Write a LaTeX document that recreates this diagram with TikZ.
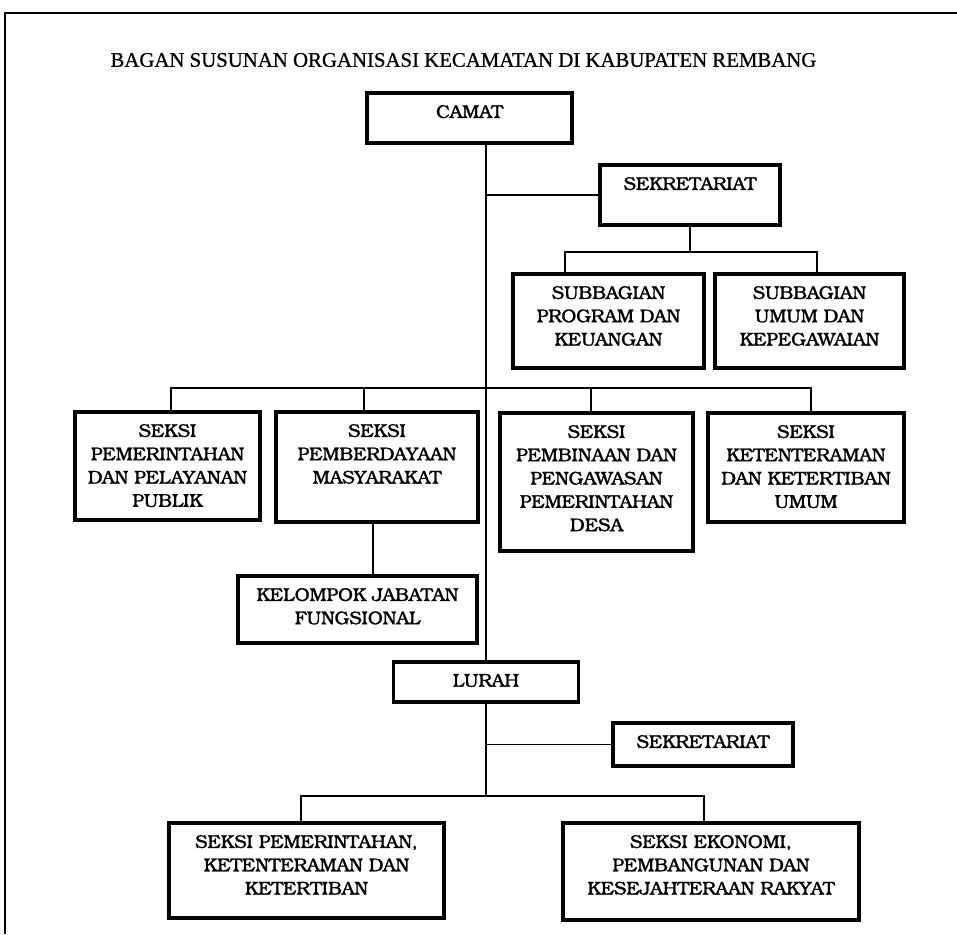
\documentclass[tikz,border=0pt]{standalone}
\usepackage{fontspec}
\newfontfamily\boxfont[FakeBold=1.3]{texgyrebonum-regular.otf}
\newfontfamily\titlefont[FakeBold=0.8]{Liberation Serif}
\begin{document}
\begin{tikzpicture}[x=1pt,y=-1pt,
  box/.style={draw, line width=3.2pt, inner sep=0pt, rectangle},
  txt/.style={font=\boxfont\fontsize{18.5}{23.3}\selectfont, align=center, inner sep=0pt, anchor=north},
  conn/.style={line width=1.7pt}]
\useasboundingbox (0,0) rectangle (957,934);
\draw[line width=1.8pt] (957,13) -- (5,13) -- (5,934);
\node[font=\titlefont\fontsize{20.8}{24}\selectfont, inner sep=0pt] (title) at (463.5,60) {BAGAN SUSUNAN ORGANISASI KECAMATAN DI KABUPATEN REMBANG};
% boxes
\node[box, minimum width=205pt, minimum height=50pt] (camat) at (469.5,118) {};
\node[box, minimum width=180pt, minimum height=60pt] (sek1) at (690,195) {};
\node[box, minimum width=191pt, minimum height=94pt] (sub1) at (608.5,321) {};
\node[box, minimum width=189pt, minimum height=94pt] (sub2) at (809.5,321) {};
\node[box, minimum width=185pt, minimum height=108pt] (s1) at (167.5,466) {};
\node[box, minimum width=202pt, minimum height=110pt] (s2) at (377,467) {};
\node[box, minimum width=193pt, minimum height=138pt] (s3) at (596.5,482) {};
\node[box, minimum width=196pt, minimum height=109pt] (s4) at (806,467.5) {};
\node[box, minimum width=239pt, minimum height=67pt] (kel) at (357.5,609.5) {};
\node[box, minimum width=185pt, minimum height=40pt] (lurah) at (486,682) {};
\node[box, minimum width=180pt, minimum height=43pt] (sek2) at (703,744.5) {};
\node[box, minimum width=275pt, minimum height=95pt] (l1) at (306.5,870.5) {};
\node[box, minimum width=296pt, minimum height=97pt] (l2) at (711,871.5) {};
% texts
\node[txt] (camatT) at ([yshift=-13.5pt]camat.north) {CAMAT};
\node[txt] (sek1T) at ([yshift=-13.5pt]sek1.north) {SEKRETARIAT};
\node[txt] (sub1T) at ([yshift=-13.5pt]sub1.north) {SUBBAGIAN\\PROGRAM DAN\\KEUANGAN};
\node[txt] (sub2T) at ([yshift=-13.5pt]sub2.north) {SUBBAGIAN\\UMUM DAN\\KEPEGAWAIAN};
\node[txt] (s1T) at ([yshift=-13.5pt]s1.north) {SEKSI\\PEMERINTAHAN\\DAN PELAYANAN\\PUBLIK};
\node[txt] (s2T) at ([yshift=-13.5pt]s2.north) {SEKSI\\PEMBERDAYAAN\\MASYARAKAT};
\node[txt] (s3T) at ([yshift=-13.5pt]s3.north) {SEKSI\\PEMBINAAN DAN\\PENGAWASAN\\PEMERINTAHAN\\DESA};
\node[txt] (s4T) at ([yshift=-13.5pt]s4.north) {SEKSI\\KETENTERAMAN\\DAN KETERTIBAN\\UMUM};
\node[txt] (kelT) at ([yshift=-13.5pt]kel.north) {KELOMPOK JABATAN\\FUNGSIONAL};
\node[txt] (lurahT) at ([yshift=-13.5pt]lurah.north) {LURAH};
\node[txt] (sek2T) at ([yshift=-13.5pt]sek2.north) {SEKRETARIAT};
\node[txt] (l1T) at ([yshift=-13.5pt]l1.north) {SEKSI PEMERINTAHAN,\\KETENTERAMAN DAN\\KETERTIBAN};
\node[txt] (l2T) at ([yshift=-13.5pt]l2.north) {SEKSI EKONOMI,\\PEMBANGUNAN DAN\\KESEJAHTERAAN RAKYAT};
% junctions
\coordinate (jsA) at (565,252);
\coordinate (jsB) at (817,252);
\coordinate (jr1) at (171,388);
\coordinate (jr2) at (364,388);
\coordinate (jr3) at (591,388);
\coordinate (jr4) at (811,388);
\coordinate (jk) at (373,560);
\coordinate (jl1) at (301,796);
\coordinate (jl2) at (704,796);
% connectors
\draw[conn] (camat.south -| lurah.north) -- (lurah.north);
\draw[conn] (sek1.west) -- (sek1.west -| lurah.north);
\draw[conn] (sek1.south) -- (sek1.south |- jsA);
\draw[conn] (jsA |- sub1.north) -- (jsA) -- (jsB) -- (jsB |- sub2.north);
\draw[conn] (jr1 |- s1.north) -- (jr1) -- (jr4) -- (jr4 |- s4.north);
\draw[conn] (jr2) -- (jr2 |- s2.north);
\draw[conn] (jr3) -- (jr3 |- s3.north);
\draw[conn] (s2.south -| jk) -- (kel.north -| jk);
\draw[conn] (sek2.west) -- (sek2.west -| lurah.south);
\draw[conn] (lurah.south) -- (lurah.south |- jl1);
\draw[conn] (jl1 |- l1.north) -- (jl1) -- (jl2) -- (jl2 |- l2.north);
\end{tikzpicture}
\end{document}
